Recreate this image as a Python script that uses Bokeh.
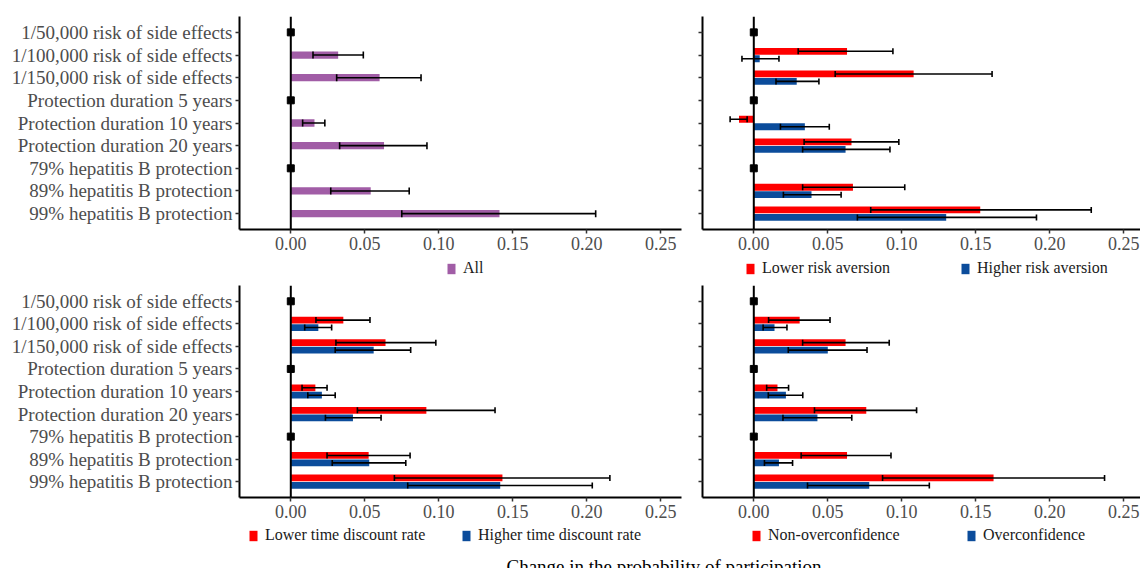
import numpy as np
from bokeh.plotting import figure
from bokeh.layouts import column, row
from bokeh.models import (ColumnDataSource, FactorRange, Range1d, Span, Legend,
                          LegendItem, FixedTicker, NumeralTickFormatter, Label,
                          CustomJSTickFormatter)
from bokeh.transform import dodge
from bokeh.embed import file_html
from bokeh.resources import INLINE

# ---------------- data ----------------
categories = ["1/50,000 risk of side effects", "1/100,000 risk of side effects",
              "1/150,000 risk of side effects", "Protection duration 5 years",
              "Protection duration 10 years", "Protection duration 20 years",
              "79% hepatitis B protection", "89% hepatitis B protection",
              "99% hepatitis B protection"]
reference_levels = ["1/50,000 risk of side effects", "Protection duration 5 years",
                    "79% hepatitis B protection"]
levels = ["1/100,000 risk of side effects", "1/150,000 risk of side effects",
          "Protection duration 10 years", "Protection duration 20 years",
          "89% hepatitis B protection", "99% hepatitis B protection"]

all_est = [0.032, 0.060, 0.016, 0.063, 0.054, 0.141]
all_lo = [0.015, 0.031, 0.008, 0.033, 0.027, 0.075]
all_hi = [0.049, 0.088, 0.023, 0.092, 0.080, 0.206]

lra_est = [0.063, 0.108, -0.010, 0.066, 0.067, 0.153]
lra_lo = [0.030, 0.055, -0.016, 0.034, 0.033, 0.079]
lra_hi = [0.094, 0.161, -0.0045, 0.098, 0.102, 0.228]
hra_est = [0.004, 0.029, 0.0345, 0.062, 0.039, 0.130]
hra_lo = [-0.008, 0.015, 0.018, 0.033, 0.020, 0.070]
hra_hi = [0.017, 0.044, 0.051, 0.092, 0.059, 0.191]

ltd_est = [0.0355, 0.064, 0.0166, 0.0916, 0.0526, 0.143]
ltd_lo = [0.017, 0.0305, 0.0076, 0.045, 0.0245, 0.070]
ltd_hi = [0.0535, 0.098, 0.0245, 0.138, 0.0806, 0.2156]
htd_est = [0.0186, 0.056, 0.021, 0.042, 0.053, 0.1415]
htd_lo = [0.0094, 0.030, 0.0115, 0.0234, 0.028, 0.079]
htd_hi = [0.0276, 0.081, 0.030, 0.061, 0.0777, 0.2037]

noc_est = [0.031, 0.062, 0.016, 0.076, 0.063, 0.162]
noc_lo = [0.010, 0.033, 0.0087, 0.041, 0.032, 0.087]
noc_hi = [0.0515, 0.0915, 0.0235, 0.110, 0.0927, 0.237]
oc_est = [0.014, 0.050, 0.0217, 0.043, 0.017, 0.078]
oc_lo = [0.0063, 0.0233, 0.0098, 0.0197, 0.0072, 0.0363]
oc_hi = [0.0224, 0.0765, 0.0331, 0.0662, 0.0262, 0.1186]

x_ticks = [0.0, 0.05, 0.10, 0.15, 0.20, 0.25]
x_title = "Change in the probability of participation"

PURPLE = "#A15DA6"
RED = "#FF0000"
BLUE = "#0B4C9B"
FONT = "Liberation Serif"
TICK_GREY = "#4D4D4D"

PX_PER_UNIT = 1480.0
X_START = -0.03466


def make_panel(series, show_labels, width, height, b_left, b_right, b_top, b_bottom,
               frame_w):
    x_end = X_START + frame_w / PX_PER_UNIT
    p = figure(width=width, height=height, toolbar_location=None, output_backend="svg",
               y_range=FactorRange(factors=list(reversed(categories)),
                                   range_padding=0.2, range_padding_units="absolute"),
               x_range=Range1d(X_START, x_end),
               min_border_left=b_left, min_border_right=b_right,
               min_border_top=b_top, min_border_bottom=b_bottom)
    p.outline_line_color = None
    p.grid.visible = False
    p.background_fill_color = "white"
    p.border_fill_color = "white"

    for ax in (p.xaxis[0], p.yaxis[0]):
        ax.axis_line_color = "black"
        ax.axis_line_width = 2
        ax.major_tick_line_color = "#333333"
        ax.major_tick_line_width = 1.5
        ax.major_tick_out = 4
        ax.major_tick_in = 0
        ax.minor_tick_line_color = None
        ax.major_label_text_font = FONT
        ax.major_label_text_color = TICK_GREY
    p.xaxis.ticker = FixedTicker(ticks=x_ticks)
    p.xaxis.formatter = NumeralTickFormatter(format="0.00")
    p.xaxis.major_label_text_font_size = "18px"
    p.xaxis.major_label_standoff = 3
    p.yaxis.major_label_text_font_size = "19px"
    if show_labels:
        p.yaxis.major_label_standoff = 3
    else:
        # right-hand panels share the left labels: ticks only, empty labels
        p.yaxis.formatter = CustomJSTickFormatter(code="return ''")
        p.yaxis.major_label_standoff = 0

    n = len(series)
    if n == 1:
        offsets = [0.0]
        bar_h = 0.32
        cap = 7
    else:
        offsets = [0.165, -0.165]
        bar_h = 0.30
        cap = 6

    for (label, color, est, lo, hi), off in zip(series, offsets):
        src = ColumnDataSource(dict(cat=levels, est=est, lo=lo, hi=hi))
        yy = dodge("cat", off, range=p.y_range)
        p.hbar(y=yy, left=0, right="est", height=bar_h, source=src,
               fill_color=color, line_color=None)
    for (label, color, est, lo, hi), off in zip(series, offsets):
        src = ColumnDataSource(dict(cat=levels, est=est, lo=lo, hi=hi))
        yy = dodge("cat", off, range=p.y_range)
        p.segment(x0="lo", y0=yy, x1="hi", y1=yy, source=src,
                  line_color="black", line_width=1.6)
        p.scatter(x="lo", y=yy, source=src, marker="dash", angle=np.pi / 2,
                  size=cap, line_color="black", line_width=1.6)
        p.scatter(x="hi", y=yy, source=src, marker="dash", angle=np.pi / 2,
                  size=cap, line_color="black", line_width=1.6)

    zero = Span(location=0, dimension="height", line_color="black", line_width=2)
    p.add_layout(zero)
    ref_src = ColumnDataSource(dict(cat=reference_levels,
                                    x=[0.0] * len(reference_levels)))
    p.scatter(x="x", y="cat", source=ref_src, marker="square", size=7,
              fill_color="black", line_color="black", level="overlay")
    return p


def make_legend_strip(series, width, height, key_x, box_bottom, spacing):
    s = figure(width=width, height=height, toolbar_location=None, output_backend="svg",
               x_range=Range1d(0, 1), y_range=Range1d(0, 1),
               x_axis_type=None, y_axis_type=None, min_border=0)
    s.outline_line_color = None
    s.grid.visible = False
    items = []
    for (label, color) in series:
        # legend-key proxy only: a single NaN row draws nothing in the strip
        proxy = ColumnDataSource(dict(y=[np.nan], right=[np.nan]))
        r = s.hbar(y="y", left=0, right="right", height=0.3, source=proxy,
                   fill_color=color, line_color=None)
        items.append(LegendItem(label=label, renderers=[r], index=0))
    legend = Legend(items=items, orientation="horizontal",
                    location=(key_x, box_bottom),
                    border_line_color=None, background_fill_alpha=0,
                    label_text_font=FONT, label_text_font_size="16px",
                    label_text_color="#1A1A1A",
                    glyph_width=10, glyph_height=13, label_standoff=7,
                    label_width=180, label_height=18, spacing=spacing,
                    padding=0, margin=0)
    s.add_layout(legend, "center")
    return s


tl = make_panel([("All", PURPLE, all_est, all_lo, all_hi)], True,
                690, 256, 239, 9, 16, 27, 442)
tr = make_panel([("Lower risk aversion", RED, lra_est, lra_lo, lra_hi),
                 ("Higher risk aversion", BLUE, hra_est, hra_lo, hra_hi)], False,
                450, 256, 12, 0, 16, 27, 438)
bl = make_panel([("Lower time discount rate", RED, ltd_est, ltd_lo, ltd_hi),
                 ("Higher time discount rate", BLUE, htd_est, htd_lo, htd_hi)], True,
                690, 239, 239, 9, 0, 27, 442)
br = make_panel([("Non-overconfidence", RED, noc_est, noc_lo, noc_hi),
                 ("Overconfidence", BLUE, oc_est, oc_lo, oc_hi)], False,
                450, 239, 12, 0, 0, 27, 438)

leg_tl = make_legend_strip([("All", PURPLE)], 690, 29, 446, 8, 20)
leg_tr = make_legend_strip([("Lower risk aversion", RED),
                            ("Higher risk aversion", BLUE)], 450, 29, 55, 8, 18)
leg_bl = make_legend_strip([("Lower time discount rate", RED),
                            ("Higher time discount rate", BLUE)], 690, 26, 248, 6, 16)
leg_br = make_legend_strip([("Non-overconfidence", RED),
                            ("Overconfidence", BLUE)], 450, 26, 61, 6, 18)

tf = figure(width=1140, height=18, toolbar_location=None, output_backend="svg",
            x_range=(0, 1), y_range=(0, 1), x_axis_type=None, y_axis_type=None,
            min_border=0)
tf.outline_line_color = None
tf.grid.visible = False
tf.add_layout(Label(x=663.5, y=2, x_units="screen", y_units="screen", text=x_title,
                    text_align="center", text_baseline="alphabetic",
                    text_font=FONT, text_font_size="19px", text_color="black"))

layout = column(row(tl, tr), row(leg_tl, leg_tr), row(bl, br), row(leg_bl, leg_br), tf)
open("out.html", "w").write(file_html(layout, INLINE))
